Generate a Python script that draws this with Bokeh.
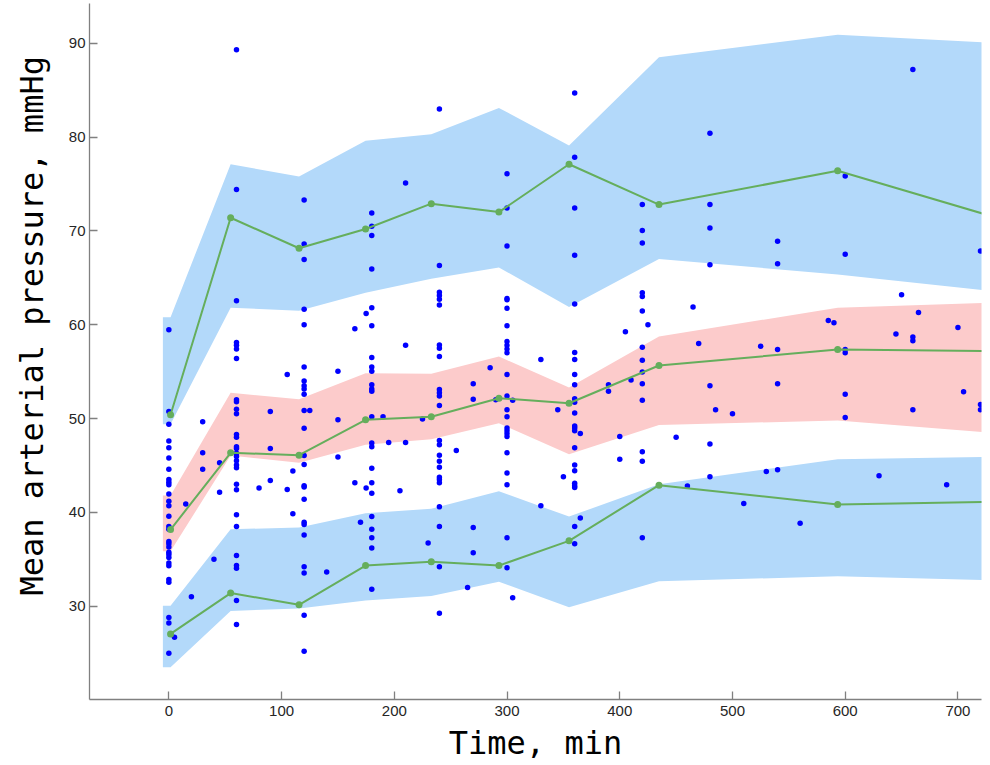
from bokeh.plotting import figure
from bokeh.models import Range1d, FixedTicker, Title
from bokeh.embed import file_html
from bokeh.resources import INLINE

# ---- bins (time, min) ----
band_time = [-5.3, 1.5, 54.8, 115.5, 174.5, 232.8, 292.8, 355.0, 434.8, 593.3, 760.0]
bin_time = [1.5, 54.8, 115.5, 174.5, 232.8, 292.8, 355.0, 434.8, 593.3, 760.0]

# ---- simulated prediction intervals ----
p95_lo = [49.4, 49.4, 61.8, 61.5, 63.4, 64.9, 66.1, 61.9, 67.0, 65.35, 63.2]
p95_hi = [60.8, 60.8, 77.1, 75.8, 79.6, 80.3, 83.1, 79.1, 88.5, 90.9, 89.85]
p50_lo = [35.85, 35.85, 46.06, 45.3, 47.2, 47.8, 49.5, 46.2, 49.3, 49.8, 48.2]
p50_hi = [41.8, 41.8, 52.75, 52.05, 54.83, 54.77, 56.6, 53.3, 58.75, 61.8, 62.46]
p05_lo = [23.5, 23.5, 29.5, 29.75, 30.6, 31.1, 32.6, 29.9, 32.65, 33.2, 32.67]
p05_hi = [30.05, 30.05, 38.2, 38.4, 39.9, 40.4, 42.25, 39.55, 43.0, 45.66, 45.98]

# ---- observed percentiles ----
obs_p95 = [50.4, 71.4, 68.15, 70.2, 72.9, 72.0, 77.1, 72.8, 76.4, 70.5]
obs_p50 = [38.17, 46.35, 46.1, 49.86, 50.2, 52.17, 51.63, 55.65, 57.35, 57.15]
obs_p05 = [27.05, 31.4, 30.15, 34.33, 34.75, 34.33, 36.97, 42.9, 40.84, 41.18]

# ---- observations ----
obs_time = [
    0, 0, 0, 0, 0, 0, 0, 0, 0, 0,
    0, 0, 0, 0, 0, 0, 0, 0, 0, 0,
    0, 0, 0, 0, 0, 0, 0, 0, 0,
    5, 15, 20, 30, 30, 30, 40, 45, 45,
    60, 60, 60, 60, 60, 60, 60, 60, 60, 60,
    60, 60, 60, 60, 60, 60, 60, 60, 60, 60,
    60, 60, 60, 60, 60, 60, 60, 60, 60,
    80, 90, 90, 90, 105, 105, 110, 110,
    120, 120, 120, 120, 120, 120, 120, 120, 120, 120,
    120, 120, 120, 120, 120, 120, 120, 120, 120, 120,
    120, 120, 120, 120,
    125, 140, 150, 150, 150, 165, 165, 170, 175, 175,
    180, 180, 180, 180, 180, 180, 180, 180, 180, 180,
    180, 180, 180, 180, 180, 180, 180, 180, 180, 180,
    180, 180, 180,
    190, 195, 205, 210, 210, 210, 225, 230,
    240, 240, 240, 240, 240, 240, 240, 240, 240, 240,
    240, 240, 240, 240, 240, 240, 240, 240, 240, 240,
    240, 240, 240, 240, 240,
    255, 265, 270, 270, 270, 270, 285, 290,
    300, 300, 300, 300, 300, 300, 300, 300, 300, 300,
    300, 300, 300, 300, 300, 300, 300, 300, 300, 300,
    300, 300, 300, 300,
    305, 305, 330, 330, 345, 350,
    360, 360, 360, 360, 360, 360, 360, 360, 360, 360,
    360, 360, 360, 360, 360, 360, 360, 360, 360, 360,
    360, 360, 360,
    365, 365, 390, 390, 400, 400, 405, 410,
    420, 420, 420, 420, 420, 420, 420, 420, 420, 420,
    420, 420, 420, 420,
    425, 450, 460, 465, 470,
    480, 480, 480, 480, 480, 480, 480,
    485, 500, 510, 525, 530,
    540, 540, 540, 540, 540,
    560, 585, 590,
    600, 600, 600, 600, 600, 600,
    630, 645, 650,
    660, 660, 660, 660,
    665, 690, 700, 705,
    720, 720, 720,
]
obs_map = [
    59.45, 50.75, 49.4, 47.6, 46.9, 45.8, 44.6, 43.5, 43.2, 42.95,
    41.95, 41.2, 40.7, 39.6, 38.5, 38.2, 36.9, 36.65, 36.3, 35.75,
    35.5, 35.2, 34.6, 34.3, 32.85, 32.55, 28.8, 28.2, 25.0,
    26.7, 40.9, 31.0, 49.65, 46.35, 44.6, 35.0, 45.3, 42.15,
    89.3, 74.4, 62.55, 58.1, 57.8, 57.4, 56.4, 52.0, 51.8, 51.0,
    50.5, 48.3, 48.0, 47.0, 46.8, 46.3, 45.95, 45.5, 45.05, 44.75,
    43.0, 42.4, 39.75, 38.5, 35.4, 34.35, 34.05, 30.6, 28.05,
    42.6, 50.75, 46.8, 43.4, 54.7, 42.45, 44.4, 39.85,
    73.3, 68.6, 66.95, 61.65, 60.0, 55.5, 54.0, 53.5, 53.15, 52.6,
    50.85, 48.97, 46.05, 45.1, 42.85, 42.7, 41.4, 38.95, 38.7, 37.6,
    34.2, 33.55, 29.05, 25.2,
    50.85, 33.65, 55.05, 49.86, 45.9, 59.56, 43.15, 38.95, 61.2, 42.6,
    71.9, 70.5, 69.5, 65.95, 61.8, 59.9, 56.5, 55.5, 55.05, 53.6,
    53.15, 52.9, 50.2, 47.4, 47.0, 44.7, 43.15, 42.05, 39.55, 38.2,
    37.3, 36.2, 31.8,
    50.2, 47.45, 42.3, 75.1, 57.8, 47.45, 49.95, 36.75,
    83.0, 66.3, 63.45, 63.1, 62.7, 62.1, 57.85, 57.5, 56.6, 53.1,
    52.75, 52.4, 51.4, 47.65, 47.2, 46.1, 45.45, 44.8, 43.75, 43.5,
    43.15, 40.6, 38.5, 34.2, 29.25,
    46.6, 32.0, 53.7, 52.05, 38.4, 35.7, 55.4, 52.0,
    76.1, 72.45, 68.4, 62.8, 62.65, 61.75, 59.9, 58.2, 57.8, 57.4,
    57.0, 54.7, 52.4, 50.95, 50.2, 49.0, 48.7, 48.4, 48.1, 46.35,
    44.2, 42.95, 37.3, 34.1,
    51.95, 30.9, 56.3, 40.7, 50.95, 43.8,
    84.7, 77.85, 72.45, 67.4, 62.2, 57.05, 56.3, 54.7, 53.6, 52.1,
    51.75, 50.6, 49.2, 49.0, 48.7, 46.9, 45.05, 44.45, 43.1, 42.85,
    42.65, 38.5, 36.65,
    48.4, 39.4, 53.6, 52.9, 48.1, 45.65, 59.25, 54.1,
    72.8, 70.05, 68.7, 63.4, 63.0, 61.45, 57.6, 56.2, 54.95, 53.7,
    51.95, 46.45, 45.45, 37.3,
    60.0, 48.0, 42.8, 61.9, 58.0,
    80.4, 72.8, 70.3, 66.4, 53.5, 47.3, 43.8,
    50.95, 50.5, 40.95, 57.7, 44.35,
    68.9, 66.5, 57.35, 53.7, 44.55,
    38.85, 60.45, 60.2,
    75.85, 67.5, 57.35, 57.0, 52.6, 50.1,
    43.9, 59.0, 63.2,
    87.2, 58.7, 58.3, 50.95,
    61.3, 42.95, 59.7, 52.85,
    67.85, 51.5, 50.95,
]
assert len(obs_time) == len(obs_map)

x_ticks = [0, 100, 200, 300, 400, 500, 600, 700]
y_ticks = [30, 40, 50, 60, 70, 80, 90]

x_label = "Time, min"
y_label = "Mean arterial pressure, mmHg"

BLUE_BAND = "#b3d9fa"
RED_BAND = "#fccbcb"
GREEN = "#65ae5c"
DOT = "#0000ff"

p = figure(
    width=983, height=765,
    x_range=Range1d(-70.4, 720.9), y_range=Range1d(20.06, 94.23),
    output_backend="svg", toolbar_location=None,
    min_border_left=89, min_border_right=2, min_border_top=3, min_border_bottom=66,
)
p.outline_line_color = None
p.xgrid.visible = False
p.ygrid.visible = False
p.background_fill_color = "white"
p.border_fill_color = "white"

for lo, hi, col in [(p95_lo, p95_hi, BLUE_BAND), (p50_lo, p50_hi, RED_BAND), (p05_lo, p05_hi, BLUE_BAND)]:
    p.varea(x=band_time, y1=lo, y2=hi, fill_color=col, fill_alpha=1.0)

p.scatter(obs_time, obs_map, size=5.5, fill_color=DOT, line_color=DOT, line_width=0)

for series in (obs_p95, obs_p50, obs_p05):
    p.line(bin_time, series, line_color=GREEN, line_width=2)
    p.scatter(bin_time, series, size=7, fill_color=GREEN, line_color=GREEN, line_width=0)

for ax in (p.xaxis[0], p.yaxis[0]):
    ax.axis_line_color = "#808080"
    ax.axis_line_width = 1.3
    ax.major_tick_line_color = "#808080"
    ax.major_tick_line_width = 1.3
    ax.major_tick_in = 8
    ax.major_tick_out = 0
    ax.minor_tick_line_color = None
    ax.major_label_text_font = "Liberation Sans"
    ax.major_label_text_font_size = "15px"
    ax.major_label_text_color = "#262626"
    ax.axis_label_text_font = "DejaVu Sans Mono"
    ax.axis_label_text_font_style = "normal"
    ax.axis_label_text_font_size = "32px"
    ax.axis_label_text_color = "#000000"

p.xaxis.ticker = FixedTicker(ticks=x_ticks)
p.yaxis.ticker = FixedTicker(ticks=y_ticks)
p.xaxis.axis_label = x_label
p.xaxis.major_label_standoff = 6
p.xaxis.axis_label_standoff = 5
p.yaxis.major_label_standoff = 4

ytitle = Title(text=y_label, align="left", vertical_align="top", offset=104, standoff=25,
               text_font="DejaVu Sans Mono", text_font_size="32px",
               text_font_style="normal", text_color="#000000")
p.add_layout(ytitle, "left")

open("out.html", "w").write(file_html(p, INLINE))
